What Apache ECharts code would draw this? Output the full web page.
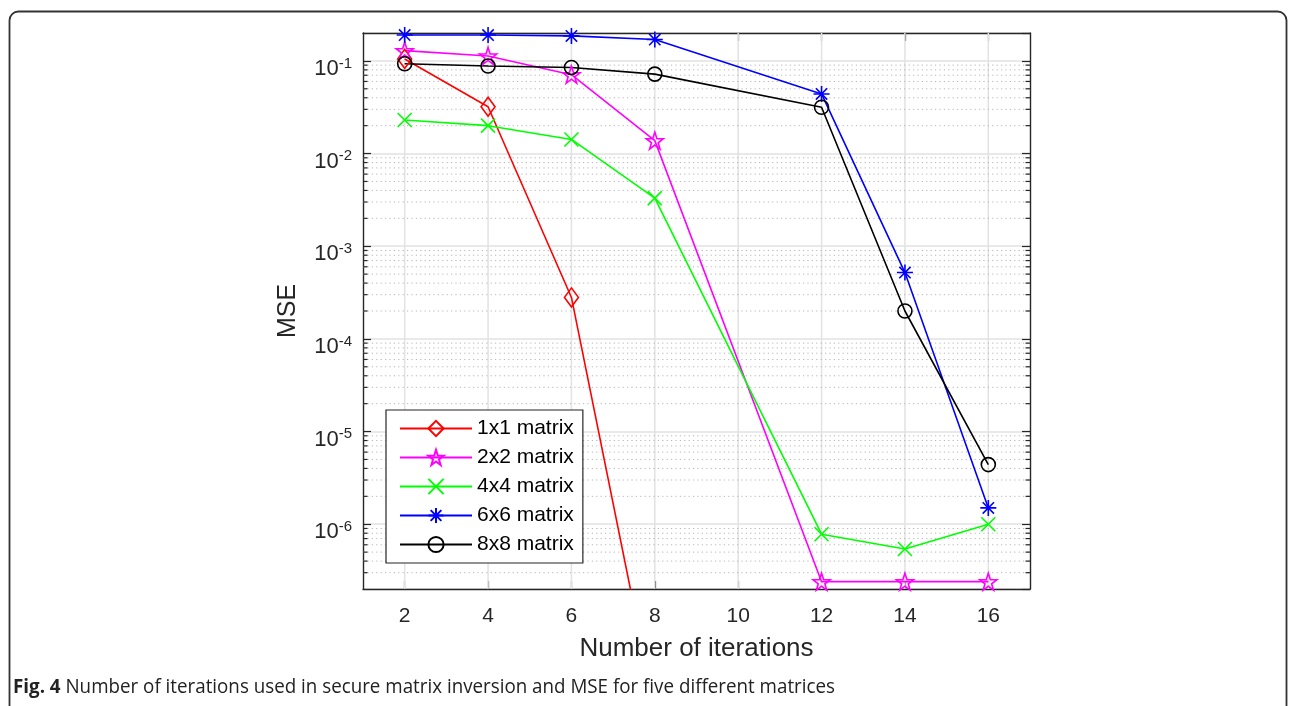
<!DOCTYPE html>
<html>
<head>
<meta charset="utf-8">
<script src="https://cdn.jsdelivr.net/npm/echarts@6/dist/echarts.min.js"></script>
<style>
  html, body { margin: 0; padding: 0; background: #fff; }
  #main { width: 1295px; height: 706px; }
</style>
</head>
<body>
<div id="main"></div>
<script>
// data
var iterations = [2, 4, 6, 8, 12, 14, 16];
var iter1x1 = [2, 4, 6, 8];
var mse1x1 = [0.105, 0.032, 2.8e-4, 1e-8];
var mse2x2 = [0.129, 0.113, 0.071, 0.0138, 2.4e-7, 2.4e-7, 2.4e-7];
var mse4x4 = [0.023, 0.020, 0.0142, 0.0033, 7.8e-7, 5.4e-7, 1.0e-6];
var mse6x6 = [0.19, 0.19, 0.186, 0.17, 0.044, 5.2e-4, 1.5e-6];
var mse8x8 = [0.093, 0.088, 0.085, 0.072, 0.0316, 2.0e-4, 4.4e-6];
var seriesNames = ['1x1 matrix', '2x2 matrix', '4x4 matrix', '6x6 matrix', '8x8 matrix'];
var xTicks = [2, 4, 6, 8, 10, 12, 14, 16];

var yMin = 2e-7, yMax = 0.2;
var FONT = '"Liberation Sans", Arial, sans-serif';
var AX = '#262626';
var GRID = '#e2e2e2';

// minor (2..9 per decade) values for dotted grid
var minorVals = [];
for (var e = -7; e <= -1; e++) {
  for (var k = 2; k <= 9; k++) {
    var v = k * Math.pow(10, e);
    if (v > yMin && v < yMax) minorVals.push([2, v]);
  }
}

function pairs(xs, ys) {
  return xs.map(function (x, i) { return [x, ys[i]]; });
}

var symbols = {
  diamond: 'diamond',
  star: 'path://M50,0 L61.8,35.1 L98.1,35.1 L68.8,56.7 L79.4,90.5 L50,69.1 L20.6,90.5 L31.2,56.7 L1.9,35.1 L38.2,35.1 Z',
  cross: 'path://M0,0L10,10M10,0L0,10',
  aster: 'path://M5,0L5,10M0,5L10,5M1.46,1.46L8.54,8.54M8.54,1.46L1.46,8.54',
  circle: 'circle'
};

function lineSeries(name, data, color, symbol, size) {
  return {
    name: name,
    type: 'line',
    data: data,
    symbol: symbol,
    symbolSize: size,
    showAllSymbol: true,
    z: 3,
    lineStyle: { color: color, width: 1.6 },
    itemStyle: { color: 'none', borderColor: color, borderWidth: 1.6 },
    emphasis: { disabled: true }
  };
}

var myChart = echarts.init(document.getElementById('main'));

// caption: squeeze to the width it has in the figure
var capBold = 'Fig. 4';
var capText = ' Number of iterations used in secure matrix inversion and MSE for five different matrices';
var ctx = document.createElement('canvas').getContext('2d');
ctx.font = 'bold 20px "Open Sans"';
var wB = ctx.measureText(capBold).width;
ctx.font = '20px "Open Sans"';
var wT = ctx.measureText(capText).width;
var capScale = 822 / (wB + wT);

var option = {
  animation: false,
  backgroundColor: '#fff',
  textStyle: { fontFamily: FONT },
  grid: { left: 363, right: 265, top: 33, bottom: 117, containLabel: false },
  legend: {
    data: seriesNames,
    orient: 'vertical',
    left: 386,
    top: 410,
    padding: [8, 9, 8, 13],
    itemWidth: 72,
    itemHeight: 19,
    itemGap: 8,
    backgroundColor: '#fff',
    borderColor: AX,
    borderWidth: 1.2,
    borderRadius: 0,
    selectedMode: false,
    textStyle: { fontSize: 21, lineHeight: 21, color: '#000', fontFamily: FONT }
  },
  xAxis: [{
    type: 'value',
    min: 1,
    max: 17,
    interval: 1,
    name: 'Number of iterations',
    nameLocation: 'middle',
    nameGap: 47,
    nameTextStyle: { fontSize: 26, color: AX, fontFamily: FONT },
    axisLine: { lineStyle: { color: AX, width: 1.4 } },
    axisTick: { inside: true, length: 8, customValues: xTicks, lineStyle: { color: AX, width: 1.2 } },
    axisLabel: { fontSize: 21, color: AX, margin: 17, customValues: xTicks },
    splitLine: { show: false }
  }, {
    type: 'value',
    min: 1,
    max: 17,
    interval: 1,
    position: 'top',
    axisLine: { lineStyle: { color: AX, width: 1.4 } },
    axisTick: { inside: true, length: 8, customValues: xTicks, lineStyle: { color: AX, width: 1.2 } },
    axisLabel: { show: false },
    splitLine: { show: false }
  }],
  yAxis: [{
    type: 'log',
    logBase: 10,
    min: yMin,
    max: yMax,
    name: 'MSE',
    nameLocation: 'middle',
    nameGap: 62,
    nameRotate: 90,
    nameTextStyle: { fontSize: 25, color: AX, fontFamily: FONT },
    axisLine: { show: true, lineStyle: { color: AX, width: 1.4 } },
    axisTick: { inside: true, length: 8, lineStyle: { color: AX, width: 1.2 } },
    axisLabel: {
      color: AX,
      margin: 11,
      padding: [16, 0, 0, 0],
      showMinLabel: false,
      showMaxLabel: false,
      formatter: function (v) {
        var l = Math.log(v) / Math.LN10;
        var p = Math.round(l);
        if (Math.abs(l - p) > 1e-6) return '';
        return '{b|10}{s|' + p + '}';
      },
      rich: {
        b: { fontSize: 22, lineHeight: 22, verticalAlign: 'bottom', color: AX, fontFamily: FONT },
        s: { fontSize: 15, lineHeight: 15, verticalAlign: 'bottom', padding: [0, 0, 9, 0], color: AX, fontFamily: FONT }
      }
    },
    splitLine: { show: true, lineStyle: { color: GRID, width: 1.5 } }
  }, {
    type: 'log',
    logBase: 10,
    min: yMin,
    max: yMax,
    position: 'right',
    axisLine: { show: true, lineStyle: { color: AX, width: 1.4 } },
    axisTick: { inside: true, length: 8, lineStyle: { color: AX, width: 1.2 } },
    axisLabel: { show: false },
    splitLine: { show: false }
  }],
  graphic: [{
    type: 'rect',
    shape: { x: 9.5, y: 11.5, width: 1277, height: 710, r: 9 },
    style: { fill: 'none', stroke: '#333', lineWidth: 1.8 },
    silent: true,
    z: 100
  }, {
    type: 'text',
    left: 13,
    top: 677,
    scaleX: capScale,
    style: {
      text: '{b|' + capBold + '}{n|' + capText + '}',
      rich: {
        b: { fontFamily: '"Open Sans"', fontWeight: 'bold', fontSize: 20, fill: '#222' },
        n: { fontFamily: '"Open Sans"', fontSize: 20, fill: '#222' }
      }
    },
    silent: true
  }],
  series: [{
    // vertical grid lines at the x ticks
    name: 'xGrid',
    type: 'custom',
    silent: true,
    z: 1,
    data: xTicks.map(function (x) { return [x, 0.01]; }),
    renderItem: function (params, api) {
      var x = api.coord([api.value(0), 0.01])[0];
      var cs = params.coordSys;
      return {
        type: 'line',
        shape: { x1: x, y1: cs.y, x2: x, y2: cs.y + cs.height },
        style: { stroke: GRID, lineWidth: 1.5 }
      };
    }
  }, {
    // dotted minor grid and minor ticks on the log axis
    name: 'minorGrid',
    type: 'custom',
    silent: true,
    z: 1,
    data: minorVals,
    renderItem: function (params, api) {
      var y = api.coord([2, api.value(1)])[1];
      var cs = params.coordSys;
      var st = { stroke: AX, lineWidth: 1.2 };
      return {
        type: 'group',
        children: [{
          type: 'line',
          shape: { x1: cs.x, y1: y, x2: cs.x + cs.width, y2: y },
          style: { stroke: '#b5b5b5', lineWidth: 1, lineDash: [1.2, 3.2] }
        }, {
          type: 'line',
          shape: { x1: cs.x, y1: y, x2: cs.x + 4.5, y2: y },
          style: st
        }, {
          type: 'line',
          shape: { x1: cs.x + cs.width - 4.5, y1: y, x2: cs.x + cs.width, y2: y },
          style: st
        }]
      };
    }
  },
    lineSeries(seriesNames[0], pairs(iter1x1, mse1x1), '#ff0000', symbols.diamond, [14, 19]),
    lineSeries(seriesNames[1], pairs(iterations, mse2x2), '#ff00ff', symbols.star, 17),
    lineSeries(seriesNames[2], pairs(iterations, mse4x4), '#00ff00', symbols.cross, 14),
    lineSeries(seriesNames[3], pairs(iterations, mse6x6), '#0000ff', symbols.aster, 16),
    lineSeries(seriesNames[4], pairs(iterations, mse8x8), '#000000', symbols.circle, 14)
  ]
};

myChart.setOption(option);
</script>
</body>
</html>
